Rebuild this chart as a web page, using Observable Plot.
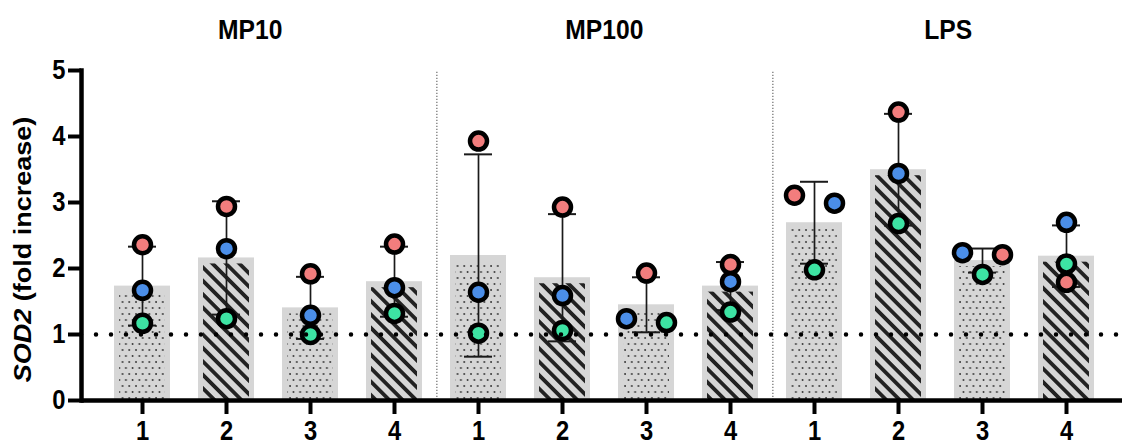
<!DOCTYPE html>
<html><head><meta charset="utf-8">
<script src="https://cdn.jsdelivr.net/npm/d3@7"></script>
<script src="https://cdn.jsdelivr.net/npm/@observablehq/plot@0.6"></script>
<style>html,body{margin:0;padding:0;background:#fff}svg{display:block}</style>
</head><body><div id="chart"></div>
<script>
// ---- data ----
const groups = ["MP10", "MP100", "LPS"];
const conditions = ["1", "2", "3", "4"];
const replicates = ["A", "B", "C"];
const repColors = ["#f27d7d", "#4b8ee8", "#3de3a3"];
// values per bar, in order MP10 1-4, MP100 1-4, LPS 1-4
const valuesA = [2.36, 2.94, 1.92, 2.37, 3.93, 2.93, 1.93, 2.06, 3.11, 4.37, 2.21, 1.79]; // red
const valuesB = [1.67, 2.30, 1.29, 1.71, 1.64, 1.59, 1.24, 1.80, 2.99, 3.44, 2.24, 2.70]; // blue
const valuesC = [1.17, 1.24, 1.00, 1.32, 1.02, 1.06, 1.18, 1.34, 1.98, 2.68, 1.91, 2.07]; // green
const yTicks = [0, 1, 2, 3, 4, 5];
const baseline = 1;
const yLabel = "SOD2 (fold increase)";
const yLabelItalic = "SOD2";

// ---- layout ----
const W = 1122, H = 446;
const mL = 81, mR = 0, mT = 70, mB = 46;
const padIn = 0.339, padOut = 0.315, alignX = 0.544;
const FONT = 27, SQUEEZE = 0.88;

const keys = [];
groups.forEach(g => conditions.forEach(c => keys.push(g + "|" + c)));
const band = d3.scaleBand().domain(keys).range([mL, W - mR])
  .paddingInner(padIn).paddingOuter(padOut).align(alignX);
const step = band.step(), bw = band.bandwidth();

const series = [valuesA, valuesB, valuesC];
const bars = keys.map((key, i) => {
  const vals = series.map(s => s[i]);
  const mean = d3.mean(vals), sd = d3.deviation(vals);
  const cond = key.split("|")[1];
  return {key, mean, lo: mean - sd, hi: mean + sd, hatch: (+cond) % 2 === 0};
});
// points with simple collision dodge (close values split left/right)
const points = [];
keys.forEach((key, i) => {
  const pts = replicates.map((r, j) => ({key, rep: r, v: series[j][i], side: 0}));
  for (let a = 0; a < pts.length; a++) for (let b = a + 1; b < pts.length; b++) {
    if (Math.abs(pts[a].v - pts[b].v) < 0.2) {
      const hi = pts[a].v >= pts[b].v ? pts[a] : pts[b];
      const lo = hi === pts[a] ? pts[b] : pts[a];
      hi.side = -1; lo.side = 1;
    }
  }
  points.push(...pts);
});
const dodge = 20;
const capInset = (bw - 28) / 2;

// group separators (midway between last bar of a group and first of the next)
const sepKeys = groups.slice(0, -1).map(g => g + "|4");
const bounds = [mL, ...sepKeys.map(k => band(k) + bw / 2 + step / 2), W - mR];

const dotMarks = [-1, 0, 1].map(s => Plot.dot(points.filter(d => d.side === s), {
  x: "key", y: "v", fill: "rep", stroke: "black", strokeWidth: 4.5, r: 8.5, dx: s * dodge
}));
const titleMarks = groups.map((g, i) => Plot.text([g], {
  frameAnchor: "top-left", dx: (bounds[i] + bounds[i + 1]) / 2 - mL - (i === 0 ? 8 : 0), dy: -40,
  textAnchor: "middle", lineAnchor: "middle", fontSize: FONT + 1
}));

const svg = Plot.plot({
  width: W, height: H,
  marginLeft: mL, marginRight: mR, marginTop: mT, marginBottom: mB,
  style: {fontFamily: "'Liberation Sans', Arial, sans-serif", fontWeight: "bold", fontSize: FONT + "px", color: "black", background: "white"},
  x: {domain: keys, paddingInner: padIn, paddingOuter: padOut, align: alignX, axis: null},
  y: {domain: [0, 5], axis: null},
  color: {domain: replicates, range: repColors},
  marks: [
    Plot.barY(bars, {x: "key", y: "mean", fill: "#d6d6d6"}),
    Plot.barY(bars.filter(d => !d.hatch), {x: "key", y: "mean", fill: "url(#dots)", insetLeft: 5, insetRight: 5, insetTop: 6}),
    Plot.barY(bars.filter(d => d.hatch), {x: "key", y: "mean", fill: "url(#hatch)", insetLeft: 5, insetRight: 5, insetTop: 6}),
    Plot.ruleX(sepKeys, {y1: 0, y2: 5, dx: step / 2, stroke: "#777", strokeWidth: 1.3, strokeDasharray: "1.3 1.7"}),
    Plot.ruleX(bars, {x: "key", y1: "lo", y2: "hi", stroke: "#1a1a1a", strokeWidth: 1.7}),
    Plot.tickY(bars, {x: "key", y: "hi", stroke: "#1a1a1a", strokeWidth: 2, insetLeft: capInset, insetRight: capInset}),
    Plot.tickY(bars, {x: "key", y: "lo", stroke: "#1a1a1a", strokeWidth: 2, insetLeft: capInset, insetRight: capInset}),
    ...dotMarks,
    Plot.ruleY([baseline], {stroke: "black", strokeWidth: 4.5, strokeDasharray: "0 15", strokeLinecap: "round"}),
    Plot.ruleY([0], {stroke: "black", strokeWidth: 4.5}),
    Plot.frame({anchor: "left", stroke: "black", strokeWidth: 4.5}),
    Plot.axisY({ticks: yTicks, tickSize: 13, tickPadding: 3, strokeWidth: 4, label: null, tickFormat: d => String(d)}),
    Plot.axisX({tickSize: 14, tickPadding: 6, strokeWidth: 4, label: null, tickFormat: k => k.split("|")[1]}),
    ...titleMarks,
    Plot.text([yLabel], {frameAnchor: "left", rotate: -90, textAnchor: "middle", lineAnchor: "middle", dx: -58, dy: 14, fontSize: FONT})
  ]
});

// patterns
const defs = d3.select(svg).insert("defs", ":first-child");
const pd = defs.append("pattern").attr("id", "dots").attr("patternUnits", "userSpaceOnUse")
  .attr("width", 6.7).attr("height", 12);
pd.append("circle").attr("cx", 2).attr("cy", 2).attr("r", 0.95).attr("fill", "#333");
pd.append("circle").attr("cx", 5.35).attr("cy", 8).attr("r", 0.95).attr("fill", "#333");
const ph = defs.append("pattern").attr("id", "hatch").attr("patternUnits", "userSpaceOnUse")
  .attr("width", 9.5).attr("height", 9.5).attr("patternTransform", "rotate(-45)");
ph.append("rect").attr("x", 0).attr("y", 0).attr("width", 3.8).attr("height", 9.5).attr("fill", "#222");

// text: condensed look (scale about each text's own anchor) + italic gene name
d3.select(svg).selectAll("text").each(function() {
  const t = d3.select(this);
  const tr = t.attr("transform");
  if (tr) {
    const rotated = /rotate/.test(tr);
    t.attr("transform", tr + (rotated ? ` scale(1,${SQUEEZE})` : ` scale(${SQUEEZE},1)`));
  }
  if (this.textContent === yLabel) {
    const rest = yLabel.slice(yLabelItalic.length);
    t.text(null);
    t.append("tspan").attr("font-style", "italic").text(yLabelItalic);
    t.append("tspan").text(rest);
  }
});

document.getElementById("chart").appendChild(svg);
</script>
</body></html>
